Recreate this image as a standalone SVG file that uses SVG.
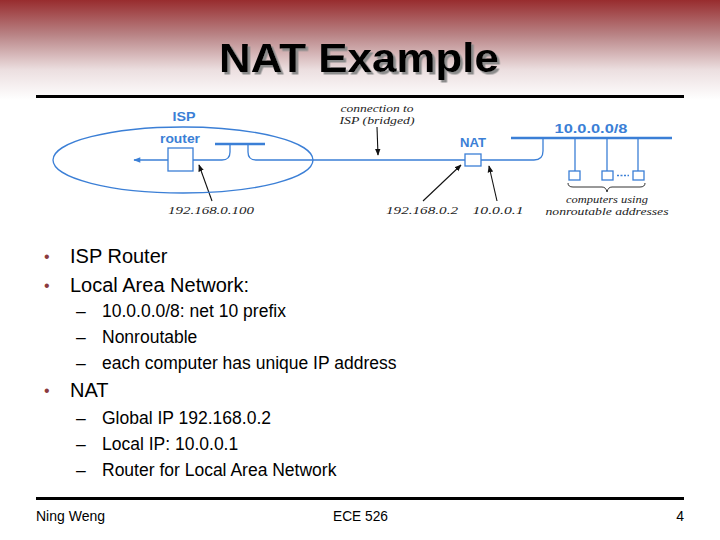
<svg xmlns="http://www.w3.org/2000/svg" width="720" height="540" viewBox="0 0 720 540">
<defs>
<linearGradient id="hdr" x1="0" y1="0" x2="0" y2="1">
<stop offset="0" stop-color="#982c2e"/>
<stop offset="0.35" stop-color="#b98486"/>
<stop offset="0.7" stop-color="#ecdfe0"/>
<stop offset="1" stop-color="#ffffff"/>
</linearGradient>
<filter id="shadow" x="-10%" y="-20%" width="120%" height="150%">
<feDropShadow dx="2.5" dy="2.5" stdDeviation="0.3" flood-color="#8c8c8c" flood-opacity="1"/>
</filter>
<marker id="ab" viewBox="0 0 10 10" refX="9" refY="5" markerWidth="7" markerHeight="7" orient="auto" markerUnits="userSpaceOnUse">
<path d="M0,1 L10,5 L0,9 z" fill="#111"/>
</marker>
<marker id="abl" viewBox="0 0 10 10" refX="9" refY="5" markerWidth="9" markerHeight="7" orient="auto" markerUnits="userSpaceOnUse">
<path d="M0,1 L10,5 L0,9 z" fill="#3b7fd6"/>
</marker>
</defs>
<style>
.net{fill:none;stroke:#3b7fd6;stroke-width:1.3}
.bar{fill:none;stroke:#3b7fd6;stroke-width:2.6}
.box{fill:#fff;stroke:#3b7fd6;stroke-width:1.3}
.blab{font-family:"Liberation Sans",Arial,sans-serif;font-weight:bold;font-size:12px;fill:#3b7fd6;text-anchor:middle}
.ital{font-family:"Liberation Serif","Times New Roman",serif;font-style:italic;font-size:11px;fill:#222;text-anchor:middle}
.ptr{fill:none;stroke:#111;stroke-width:1.1;marker-end:url(#ab)}
.b1{font-family:"Liberation Sans",Arial,sans-serif;font-size:20px;fill:#000}
.b2{font-family:"Liberation Sans",Arial,sans-serif;font-size:17.5px;fill:#000}
.dot{font-family:"Liberation Sans",Arial,sans-serif;font-size:16px;fill:#8b3a3e}
.ft{font-family:"Liberation Sans",Arial,sans-serif;font-size:14px;fill:#000}
</style>
<rect x="0" y="0" width="720" height="540" fill="#fff"/>
<rect x="0" y="0" width="720" height="100" fill="url(#hdr)"/>
<g id="title">
<text x="359" y="72" font-family="Liberation Sans,Arial,sans-serif" font-weight="bold" font-size="41" fill="#000" text-anchor="middle" textLength="280" lengthAdjust="spacingAndGlyphs" filter="url(#shadow)">NAT Example</text>
</g>
<line x1="36" y1="96.5" x2="684" y2="96.5" stroke="#000" stroke-width="3"/>

<g id="connectors">
<path class="net" d="M193,160 H222 Q230,160 230,152 V144"/>
<path class="net" d="M248,144 V152 Q248,160 256,160 H465"/>
<path class="net" d="M481,160 H534 Q543,160 543,151 V138"/>
<line class="net" x1="168" y1="160" x2="134" y2="160" marker-end="url(#abl)"/>
<line class="net" x1="575" y1="138" x2="575" y2="171"/>
<line class="net" x1="607" y1="138" x2="607" y2="171"/>
<line class="net" x1="638" y1="138" x2="638" y2="171"/>
<line class="ptr" x1="212" y1="201" x2="199" y2="165"/>
<line class="ptr" x1="377" y1="127" x2="378" y2="155"/>
<line class="ptr" x1="423" y1="201" x2="461" y2="165"/>
<line class="ptr" x1="497" y1="201" x2="489" y2="166"/>
</g>

<g id="isp">
<ellipse class="net" cx="183" cy="160" rx="130" ry="33"/>
<text class="blab" x="184" y="121" textLength="23" lengthAdjust="spacingAndGlyphs">ISP</text>
</g>
<g id="router">
<text class="blab" x="180" y="143" textLength="40" lengthAdjust="spacingAndGlyphs">router</text>
<rect class="box" x="168" y="148" width="25" height="23"/>
</g>
<g id="bridge">
<line class="bar" x1="215" y1="144" x2="265" y2="144"/>
</g>
<g id="bridge-label">
<text class="ital" x="377" y="112" textLength="73" lengthAdjust="spacingAndGlyphs">connection to</text>
<text class="ital" x="377" y="124" textLength="75" lengthAdjust="spacingAndGlyphs">ISP (bridged)</text>
</g>
<g id="nat">
<text class="blab" x="473" y="147" textLength="26" lengthAdjust="spacingAndGlyphs">NAT</text>
<rect class="box" x="465" y="154" width="16" height="12"/>
</g>
<g id="lan">
<line class="bar" x1="511" y1="138" x2="672" y2="138"/>
<text class="blab" x="591" y="133" textLength="73" lengthAdjust="spacingAndGlyphs">10.0.0.0/8</text>
</g>
<g id="computers">
<rect class="box" x="569" y="171" width="11" height="9"/>
<rect class="box" x="602" y="171" width="11" height="9"/>
<rect class="box" x="633" y="171" width="11" height="9"/>
<line x1="617" y1="175.5" x2="629" y2="175.5" stroke="#3b7fd6" stroke-width="1.5" stroke-dasharray="2,1.5"/>
<path d="M568,183 Q568,187 573,187 H602 Q606,187 607,192 Q608,187 612,187 H640 Q645,187 645,183" fill="none" stroke="#333" stroke-width="1"/>
<text class="ital" x="607" y="203" textLength="82" lengthAdjust="spacingAndGlyphs">computers using</text>
<text class="ital" x="607" y="215" textLength="123" lengthAdjust="spacingAndGlyphs">nonroutable addresses</text>
</g>
<g id="addr-labels">
<text class="ital" x="211" y="214" font-size="12" textLength="86" lengthAdjust="spacingAndGlyphs">192.168.0.100</text>
<text class="ital" x="422" y="214" font-size="12" textLength="72" lengthAdjust="spacingAndGlyphs">192.168.0.2</text>
<text class="ital" x="498" y="214" font-size="12" textLength="51" lengthAdjust="spacingAndGlyphs">10.0.0.1</text>
</g>

<g id="bullets">
<text class="dot" x="44" y="262">•</text>
<text class="b1" x="70" y="263">ISP Router</text>
<text class="dot" x="44" y="291">•</text>
<text class="b1" x="70" y="292">Local Area Network:</text>
<text class="b2" x="76" y="317">–</text>
<text class="b2" x="102" y="317">10.0.0.0/8: net 10 prefix</text>
<text class="b2" x="76" y="343">–</text>
<text class="b2" x="102" y="343">Nonroutable</text>
<text class="b2" x="76" y="369">–</text>
<text class="b2" x="102" y="369">each computer has unique IP address</text>
<text class="dot" x="44" y="396">•</text>
<text class="b1" x="70" y="397">NAT</text>
<text class="b2" x="76" y="424">–</text>
<text class="b2" x="102" y="424">Global IP 192.168.0.2</text>
<text class="b2" x="76" y="450">–</text>
<text class="b2" x="102" y="450">Local IP: 10.0.0.1</text>
<text class="b2" x="76" y="476">–</text>
<text class="b2" x="102" y="476">Router for Local Area Network</text>
</g>

<line x1="36" y1="498.5" x2="684" y2="498.5" stroke="#000" stroke-width="3"/>
<g id="footer">
<text class="ft" x="36" y="521" textLength="69" lengthAdjust="spacingAndGlyphs">Ning Weng</text>
<text class="ft" x="333" y="521" textLength="55" lengthAdjust="spacingAndGlyphs">ECE 526</text>
<text class="ft" x="684" y="521" text-anchor="end">4</text>
</g>
</svg>
